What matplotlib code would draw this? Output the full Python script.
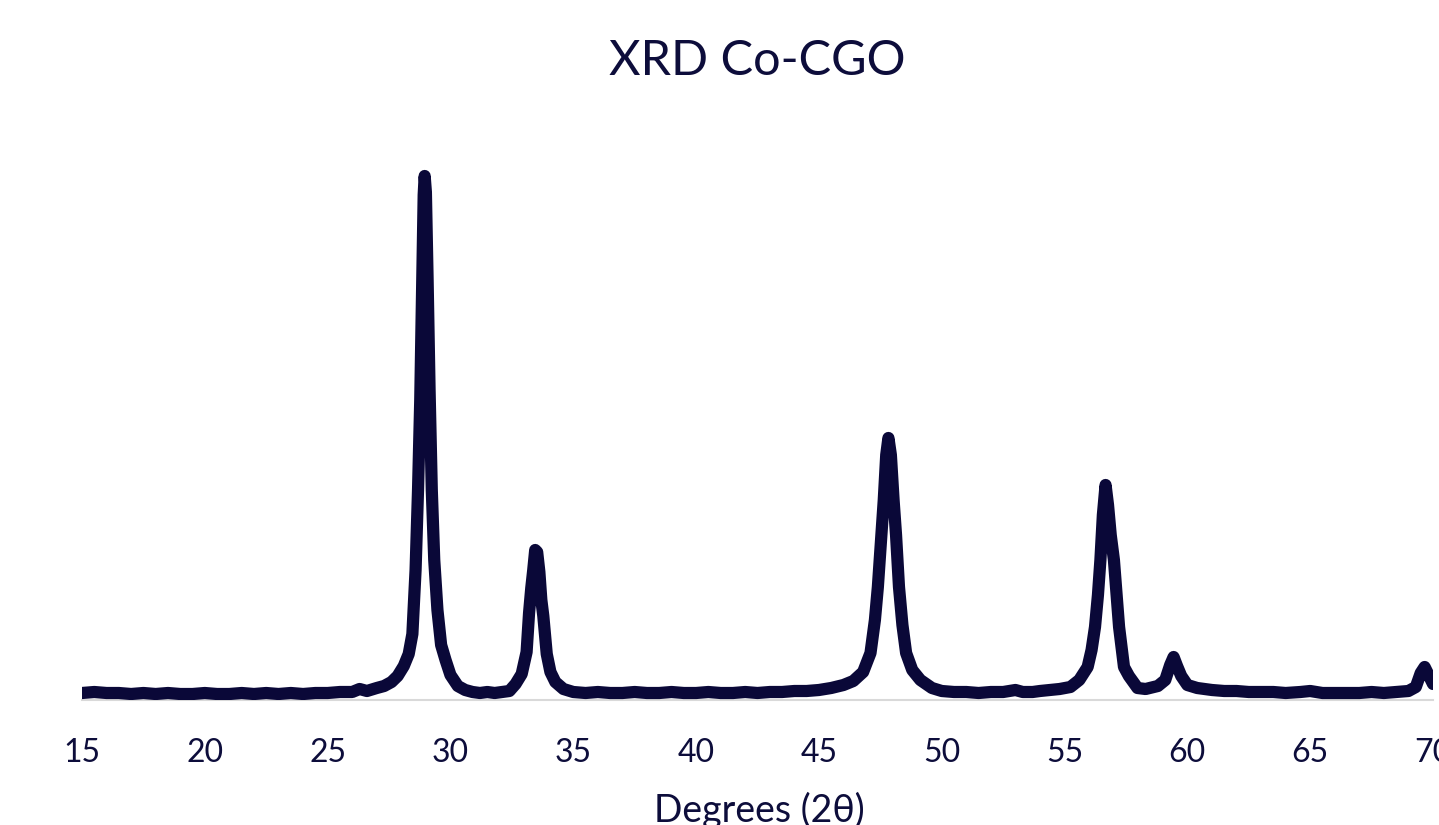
import matplotlib

matplotlib.use("Agg")
import matplotlib.pyplot as plt  # noqa: E402

# XRD pattern of Co-CGO (intensity in a.u.)
two_theta = [
    15.0, 15.5, 16.0, 16.5, 17.0, 17.5, 18.0, 18.5, 19.0, 19.5,
    20.0, 20.5, 21.0, 21.5, 22.0, 22.5, 23.0, 23.5, 24.0, 24.5,
    25.0, 25.5, 26.0, 26.3, 26.6, 27.0, 27.3, 27.6, 27.85, 28.1,
    28.3, 28.45, 28.58, 28.68, 28.77, 28.85, 28.91, 28.95, 29.0, 29.07,
    29.15, 29.24, 29.34, 29.47, 29.62, 29.8, 30.0, 30.3, 30.6, 30.9,
    31.2, 31.5, 31.8, 32.1, 32.4, 32.65, 32.9, 33.1, 33.2, 33.29,
    33.37, 33.45, 33.53, 33.62, 33.7, 33.78, 33.92, 34.07, 34.27, 34.6,
    35.0, 35.5, 36.0, 36.5, 37.0, 37.5, 38.0, 38.5, 39.0, 39.5,
    40.0, 40.5, 41.0, 41.5, 42.0, 42.5, 43.0, 43.5, 44.0, 44.5,
    45.0, 45.5, 46.0, 46.4, 46.8, 47.1, 47.28, 47.4, 47.53, 47.64,
    47.74, 47.83, 47.93, 48.04, 48.14, 48.26, 48.4, 48.55, 48.8, 49.13,
    49.6, 50.0, 50.5, 51.0, 51.5, 52.0, 52.5, 53.0, 53.3, 53.7,
    54.0, 54.4, 54.8, 55.24, 55.6, 55.94, 56.1, 56.24, 56.36, 56.46,
    56.56, 56.67, 56.77, 56.88, 57.01, 57.12, 57.22, 57.42, 57.62, 57.97,
    58.3, 58.8, 59.1, 59.3, 59.44, 59.58, 59.75, 60.0, 60.4, 61.0,
    61.5, 62.0, 62.5, 63.0, 63.5, 64.0, 64.6, 65.0, 65.5, 66.0,
    66.5, 67.0, 67.5, 68.0, 68.5, 69.0, 69.3, 69.5, 69.66, 69.8,
    70.0,
]
intensity = [
    7, 8, 7, 7, 6, 7, 6, 7, 6, 6,
    7, 6, 6, 7, 6, 7, 6, 7, 6, 7,
    7, 8, 8, 11, 9, 12, 14, 18, 24, 34,
    46, 66, 130, 210, 300, 420, 505, 524, 508, 420,
    310, 210, 140, 90, 55, 40, 25, 14, 10, 8,
    7, 8, 7, 8, 9, 16, 26, 48, 87, 112,
    130, 150, 148, 128, 100, 84, 46, 28, 18, 11,
    8, 7, 8, 7, 7, 8, 7, 7, 8, 7,
    7, 8, 7, 7, 8, 7, 8, 8, 9, 9,
    10, 12, 15, 19, 28, 47, 80, 113, 160, 200,
    245, 262, 245, 200, 165, 113, 75, 47, 30, 20,
    12, 9, 8, 8, 7, 8, 8, 10, 8, 8,
    9, 10, 11, 13, 20, 33, 50, 73, 105, 140,
    185, 215, 195, 165, 140, 105, 73, 33, 24, 12,
    11, 14, 20, 35, 43, 34, 24, 15, 12, 10,
    9, 9, 8, 8, 8, 7, 8, 9, 7, 7,
    7, 7, 8, 7, 8, 9, 13, 27, 33, 26,
    16,
]
x_ticks = [15, 20, 25, 30, 35, 40, 45, 50, 55, 60, 65, 70]

LINE_COLOR = "#0a0838"
TEXT_COLOR = "#0d0d3b"
AXIS_COLOR = "#d9d9d9"

plt.rcParams["font.family"] = ["Lato", "DejaVu Sans"]

fig = plt.figure(figsize=(14.39, 8.25), dpi=100)
ax = fig.add_axes([82 / 1439, 125 / 825, 1351 / 1439, 600 / 825])

ax.plot(two_theta, intensity, color=LINE_COLOR, lw=8.8,
        solid_joinstyle="round", solid_capstyle="round")

ax.set_xlim(15, 70)
ax.set_ylim(0, 600)
ax.set_xticks(x_ticks)
ax.tick_params(axis="x", length=0, pad=27, labelsize=23, labelcolor=TEXT_COLOR)
ax.set_yticks([])
for side in ("left", "right", "top"):
    ax.spines[side].set_visible(False)
ax.spines["bottom"].set_color(AXIS_COLOR)
ax.spines["bottom"].set_linewidth(1.5)
ax.spines["bottom"].set_zorder(0)

fig.text(757 / 1439, 1 - 61 / 825, "XRD Co-CGO", ha="center", va="center",
         fontsize=35, color=TEXT_COLOR)
fig.text(759 / 1439, 1 - 822 / 825, "Degrees (2θ)", ha="center",
         va="baseline", fontsize=27, color=TEXT_COLOR)

fig.savefig("out.png", dpi=100)
